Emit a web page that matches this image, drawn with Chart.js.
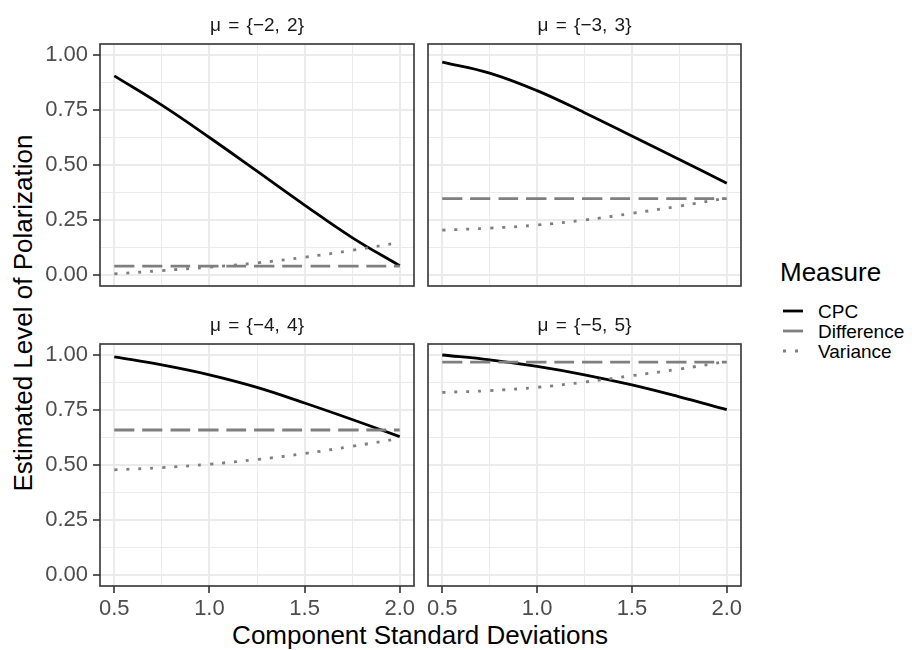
<!DOCTYPE html>
<html>
<head>
<meta charset="utf-8">
<title>Estimated Level of Polarization</title>
<script src="https://cdn.jsdelivr.net/npm/chart.js@4.4.0/dist/chart.umd.min.js"></script>
<style>
    body { margin: 0; background: #ffffff; }
    #wrap { position: relative; width: 912px; height: 650px; overflow: hidden; font-family: "Liberation Sans", Arial, sans-serif; }
    #wrap canvas { position: absolute; left: 0; top: 0; }
    .lbl { position: absolute; white-space: nowrap; line-height: 1; transform: translate(-50%, -50%); }
    .strip { font-size: 19px; color: #1a1a1a; word-spacing: 2px; }
    .title { font-size: 26px; color: #000000; }
    .legend-text { position: absolute; white-space: nowrap; line-height: 1; transform: translateY(-50%); font-size: 19px; color: #000000; }
</style>
</head>
<body>
<div id="wrap">
    <div class="lbl title" style="left:420px; top:635px;">Component Standard Deviations</div>
    <div class="lbl title" style="left:23px; top:313px; transform: translate(-50%, -50%) rotate(-90deg);">Estimated Level of Polarization</div>

    <div class="legend-text" style="left:780px; top:272px; font-size:26px;">Measure</div>
    <svg style="position:absolute; left:0; top:0;" width="912" height="650">
        <line x1="783" y1="311" x2="803" y2="311" stroke="#000000" stroke-width="2.8" />
        <line x1="783" y1="331" x2="803" y2="331" stroke="#7f7f7f" stroke-width="2.8" stroke-dasharray="20 8" />
        <line x1="783" y1="351" x2="803" y2="351" stroke="#7f7f7f" stroke-width="2.8" stroke-dasharray="3 9" />
    </svg>
    <div class="legend-text" style="left:818px; top:311px;">CPC</div>
    <div class="legend-text" style="left:818px; top:331px;">Difference</div>
    <div class="legend-text" style="left:818px; top:351px;">Variance</div>
</div>

<script>
    // component standard deviations on the x axis
    const sdValues = [0.5, 0.75, 1.0, 1.25, 1.5, 1.75, 2.0];

    const panelTitles = ["μ = {−2, 2}", "μ = {−3, 3}", "μ = {−4, 4}", "μ = {−5, 5}"];
    const measureNames = ["CPC", "Difference", "Variance"];

    // mu = {-2, 2}
    const cpcMu2 = [0.905, 0.772, 0.625, 0.472, 0.318, 0.17, 0.042];
    const differenceMu2 = [0.04, 0.04, 0.04, 0.04, 0.04, 0.04, 0.04];
    const varianceMu2 = [0.005, 0.02, 0.036, 0.055, 0.081, 0.112, 0.148];

    // mu = {-3, 3}
    const cpcMu3 = [0.968, 0.918, 0.838, 0.738, 0.632, 0.525, 0.417];
    const differenceMu3 = [0.347, 0.347, 0.347, 0.347, 0.347, 0.347, 0.347];
    const varianceMu3 = [0.204, 0.213, 0.227, 0.25, 0.28, 0.313, 0.35];

    // mu = {-4, 4}
    const cpcMu4 = [0.992, 0.955, 0.91, 0.853, 0.782, 0.707, 0.629];
    const differenceMu4 = [0.659, 0.659, 0.659, 0.659, 0.659, 0.659, 0.659];
    const varianceMu4 = [0.478, 0.488, 0.504, 0.525, 0.552, 0.585, 0.621];

    // mu = {-5, 5}
    const cpcMu5 = [1.0, 0.978, 0.948, 0.91, 0.864, 0.81, 0.752];
    const differenceMu5 = [0.968, 0.968, 0.968, 0.968, 0.968, 0.968, 0.968];
    const varianceMu5 = [0.83, 0.838, 0.853, 0.877, 0.906, 0.936, 0.971];

    const xTickValues = [0.5, 1.0, 1.5, 2.0];
    const yTickValues = [0, 0.25, 0.5, 0.75, 1.0];

    // plot area of each facet inside the page
    const panelBoxes = [
        { left: 100, right: 414, top: 44, bottom: 286, xLabels: false, yLabels: true },
        { left: 428, right: 741, top: 44, bottom: 286, xLabels: false, yLabels: false },
        { left: 100, right: 414, top: 344, bottom: 586, xLabels: true, yLabels: true },
        { left: 428, right: 741, top: 344, bottom: 586, xLabels: true, yLabels: false }
    ];

    const AXIS_W = 60;
    const AXIS_H = 34;

    Chart.defaults.font.family = "'Liberation Sans', Arial, sans-serif";

    function withMinor(major) {
        const all = major.slice();
        for (let i = 0; i < major.length - 1; i++) {
            all.push((major[i] + major[i + 1]) / 2);
        }
        return all.sort(function (a, b) { return a - b; });
    }

    function isIn(list, v) {
        return list.some(function (m) { return Math.abs(m - v) < 1e-9; });
    }

    function toPoints(values) {
        return values.map(function (v, i) {
            return { x: sdValues[i], y: v };
        });
    }

    const panelBorder = {
        id: 'panelBorder',
        afterDatasetsDraw: function (chart) {
            const a = chart.chartArea;
            const ctx = chart.ctx;
            ctx.save();
            ctx.strokeStyle = '#333333';
            ctx.lineWidth = 1.6;
            ctx.strokeRect(a.left, a.top, a.right - a.left, a.bottom - a.top);
            ctx.restore();
        }
    };

    function gridFor(major, showTicks) {
        return {
            color: '#ebebeb',
            lineWidth: function (c) { return c.tick && isIn(major, c.tick.value) ? 2 : 1; },
            drawTicks: showTicks,
            tickLength: 7,
            tickWidth: 1.6,
            tickColor: function (c) { return c.tick && isIn(major, c.tick.value) ? '#333333' : 'rgba(0,0,0,0)'; }
        };
    }

    function makePanel(index, cpc, difference, variance) {
        const box = panelBoxes[index];
        const wrap = document.getElementById('wrap');

        const canvas = document.createElement('canvas');
        canvas.width = 912;
        canvas.height = 650;
        wrap.appendChild(canvas);

        const strip = document.createElement('div');
        strip.className = 'lbl strip';
        strip.style.left = ((box.left + box.right) / 2) + 'px';
        strip.style.top = (box.top - 20) + 'px';
        strip.textContent = panelTitles[index];
        wrap.appendChild(strip);

        new Chart(canvas.getContext('2d'), {
            type: 'line',
            data: {
                datasets: [
                    { label: measureNames[0], data: toPoints(cpc), borderColor: '#000000', borderWidth: 2.8, order: 2 },
                    { label: measureNames[1], data: toPoints(difference), borderColor: '#7f7f7f', borderWidth: 2.8, borderDash: [20, 8], order: 1 },
                    { label: measureNames[2], data: toPoints(variance), borderColor: '#7f7f7f', borderWidth: 2.8, borderDash: [3, 9], order: 0 }
                ]
            },
            options: {
                responsive: false,
                animation: false,
                events: [],
                layout: {
                    padding: {
                        left: box.left - AXIS_W,
                        right: 912 - box.right,
                        top: box.top,
                        bottom: 650 - box.bottom - AXIS_H
                    }
                },
                elements: {
                    point: { radius: 0 },
                    line: { tension: 0.4, borderCapStyle: 'butt', fill: false }
                },
                plugins: {
                    legend: { display: false },
                    tooltip: { enabled: false }
                },
                scales: {
                    x: {
                        type: 'linear',
                        min: 0.425,
                        max: 2.075,
                        afterBuildTicks: function (scale) {
                            scale.ticks = withMinor(xTickValues).map(function (v) { return { value: v }; });
                        },
                        afterFit: function (scale) {
                            scale.height = AXIS_H;
                            scale.paddingLeft = 0;
                            scale.paddingRight = 0;
                        },
                        grid: gridFor(xTickValues, box.xLabels),
                        border: { display: false },
                        ticks: {
                            display: box.xLabels,
                            autoSkip: false,
                            maxRotation: 0,
                            padding: 3,
                            color: '#4d4d4d',
                            font: { size: 22 },
                            callback: function (v) { return isIn(xTickValues, v) ? v.toFixed(1) : ''; }
                        }
                    },
                    y: {
                        type: 'linear',
                        min: -0.05,
                        max: 1.05,
                        afterBuildTicks: function (scale) {
                            scale.ticks = withMinor(yTickValues).map(function (v) { return { value: v }; });
                        },
                        afterFit: function (scale) {
                            scale.width = AXIS_W;
                            scale.paddingTop = 0;
                            scale.paddingBottom = 0;
                        },
                        grid: gridFor(yTickValues, box.yLabels),
                        border: { display: false },
                        ticks: {
                            display: box.yLabels,
                            autoSkip: false,
                            padding: 5,
                            color: '#4d4d4d',
                            font: { size: 22 },
                            callback: function (v) { return isIn(yTickValues, v) ? v.toFixed(2) : ''; }
                        }
                    }
                }
            },
            plugins: [panelBorder]
        });
    }

    makePanel(0, cpcMu2, differenceMu2, varianceMu2);
    makePanel(1, cpcMu3, differenceMu3, varianceMu3);
    makePanel(2, cpcMu4, differenceMu4, varianceMu4);
    makePanel(3, cpcMu5, differenceMu5, varianceMu5);
</script>
</body>
</html>
